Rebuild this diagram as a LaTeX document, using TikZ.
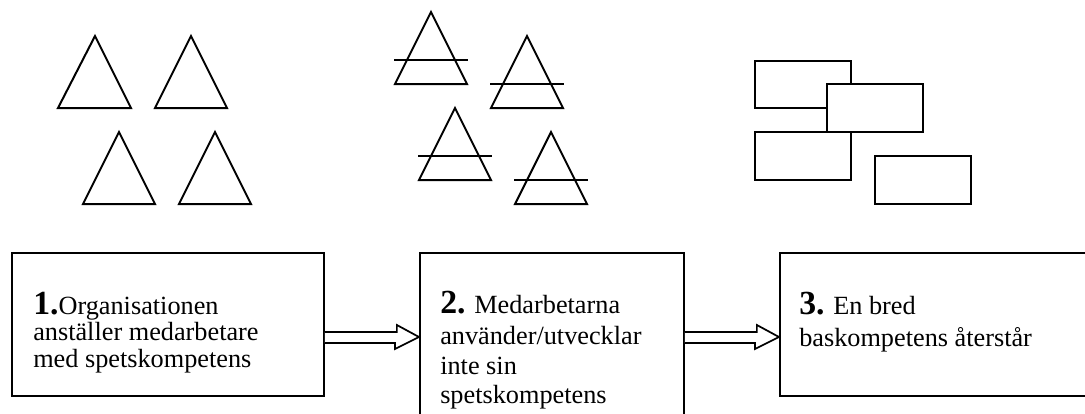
\documentclass[tikz,border=0pt]{standalone}
\usepackage{fontspec}
\setmainfont{Liberation Serif}
\usetikzlibrary{calc}
\tikzset{
  shape line/.style={draw=black, line width=1.5pt, line join=miter},
  strike/.style={draw=black, line width=1.1pt},
  stepbox/.style={draw=black, line width=1.4pt, fill=white, inner sep=0pt, anchor=north west},
  txt/.style={anchor=base west, inner sep=0pt, font=\fontsize{19.7pt}{20pt}\selectfont},
  hollowarrow/.style={draw=black, line width=1.3pt, fill=white, line join=miter},
  smallbox/.style={draw=black, line width=1.6pt, fill=white}
}
\newcommand{\bignum}[1]{{\fontsize{25.3pt}{26pt}\selectfont\bfseries #1}}
\begin{document}
\begin{tikzpicture}[x=0.75pt, y=-0.75pt]
\clip (0,0) rectangle (1085,414);
\fill[white] (0,0) rectangle (1085,414);
% left group: four triangles
\draw[shape line] (95,36) -- (131,108) -- (58,108) -- cycle;
\draw[shape line] (191,36) -- (227,108) -- (155,108) -- cycle;
\draw[shape line] (119,132) -- (155,204) -- (83,204) -- cycle;
\draw[shape line] (215,132) -- (251,204) -- (179,204) -- cycle;
% middle group: struck triangles
\draw[shape line] (431,12) -- (467,84) -- (395,84) -- cycle;
\draw[strike] (394,60) -- (468,60);
\draw[shape line] (527,36) -- (563,108) -- (491,108) -- cycle;
\draw[strike] (490,84) -- (564,84);
\draw[shape line] (455,108) -- (491,180) -- (419,180) -- cycle;
\draw[strike] (418,156) -- (492,156);
\draw[shape line] (551,132) -- (587,204) -- (515,204) -- cycle;
\draw[strike] (514,180) -- (588,180);
% right group: rectangles
\draw[smallbox] (755,61) rectangle (851,108);
\draw[smallbox] (827,84) rectangle (923,132);
\draw[smallbox] (755,132) rectangle (851,180);
\draw[smallbox] (875,156) rectangle (971,204);
% step boxes
\node[stepbox, minimum width=234pt, minimum height=107.25pt] (box1) at (11,252) {};
\node[stepbox, minimum width=198pt, minimum height=142.5pt] (box2) at (419,252) {};
\node[stepbox, minimum width=240pt, minimum height=107.25pt] (box3) at (779,252) {};
% arrows
\draw[hollowarrow] ($(box1.north east)+(0,80)$) -- ++(72,0) -- ++(0,-7) -- ($(box2.north west)+(0,85)$)
   -- ($(box2.north west)+(-24,97)$) -- ++(0,-6) -- ($(box1.north east)+(0,91)$);
\draw[hollowarrow] ($(box2.north east)+(0,80)$) -- ++(72,0) -- ++(0,-7) -- ($(box3.north west)+(0,85)$)
   -- ($(box3.north west)+(-24,97)$) -- ++(0,-6) -- ($(box2.north east)+(0,91)$);
% texts
\node[txt] (t11) at (33,314) {\bignum{1.}Organisationen};
\node[txt] (t12) at (33,340) {anställer medarbetare};
\node[txt] (t13) at (33,367) {med spetskompetens};
\node[txt] (t21) at (440,313) {\bignum{2.} Medarbetarna};
\node[txt] (t22) at (440,344) {använder/utvecklar};
\node[txt] (t23) at (440,374) {inte sin};
\node[txt] (t24) at (440,403) {spetskompetens};
\node[txt] (t31) at (799,314) {\bignum{3.} En bred};
\node[txt] (t32) at (799,346) {baskompetens återstår};
\end{tikzpicture}
\end{document}
